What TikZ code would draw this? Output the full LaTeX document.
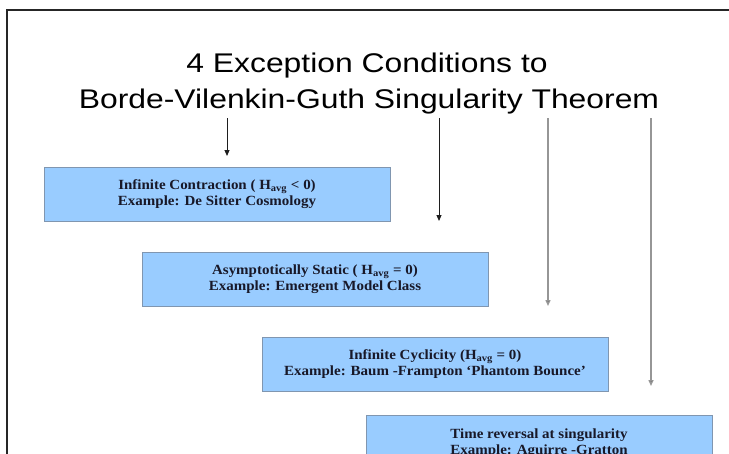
\documentclass[tikz,border=0pt]{standalone}
\usepackage{fontspec}
\setmainfont{Liberation Serif}
\newfontfamily\titlefont{Liberation Sans}
\usetikzlibrary{arrows.meta}
\definecolor{boxfill}{RGB}{153,204,255}
\definecolor{boxline}{RGB}{128,150,176}
\definecolor{boxtext}{RGB}{24,24,40}
\definecolor{darkarrow}{RGB}{30,30,30}
\definecolor{grayarrow}{RGB}{150,150,150}
\newcommand{\boxlines}[2]{\scalebox{1.07}[1]{\begin{tabular}{@{}c@{}}#1\\#2\end{tabular}}}
\newcommand{\titleline}[1]{\scalebox{1.18}[1]{#1}}
\begin{document}
\begin{tikzpicture}[x=1pt,y=-1pt,
  condbox/.style={draw=boxline, fill=boxfill, line width=0.8pt, minimum width=346pt, minimum height=54pt,
    inner sep=0pt, text=boxtext, font=\fontsize{14}{16.5}\selectfont\bfseries},
  titletext/.style={anchor=base, inner sep=0pt, font=\titlefont\fontsize{27}{36}\selectfont},
  darkline/.style={draw=darkarrow, line width=1pt, -{Triangle[length=6pt,width=5pt]}},
  grayline/.style={draw=grayarrow, line width=1.4pt, -{Triangle[length=6pt,width=5pt,fill=darkarrow]}}
]
\useasboundingbox (0,0) rectangle (729,453);
\clip (0,0) rectangle (729,453);
\fill[white] (0,0) rectangle (729,453);
% frame
\draw[line width=2pt, black!85] (7,470) -- (7,10) -- (740,10);
% title
\node[titletext] (t1) at (367,72) {\titleline{4 Exception Conditions to}};
\node[titletext] (t2) at (369,108) {\titleline{Borde-Vilenkin-Guth Singularity Theorem}};
% boxes
\node[condbox] (b1) at (217,194) {\boxlines{Infinite Contraction ( H\textsubscript{avg} < 0)}{Example: De Sitter Cosmology}};
\node[condbox] (b2) at (315,279) {\boxlines{Asymptotically Static ( H\textsubscript{avg} = 0)}{Example: Emergent Model Class}};
\node[condbox] (b3) at (435,364) {\boxlines{Infinite Cyclicity (H\textsubscript{avg} = 0)}{Example: Baum -Frampton ‘Phantom Bounce’}};
\node[condbox, minimum height=55pt] (b4) at (539,443) {\boxlines{Time reversal at singularity}{Example: Aguirre -Gratton}};
% arrow endpoints
\coordinate (s1) at (227,118); \coordinate (e1) at (227,156);
\coordinate (s2) at (439,118); \coordinate (e2) at (439,221);
\coordinate (s3) at (548,118); \coordinate (e3) at (548,306);
\coordinate (s4) at (651,118); \coordinate (e4) at (651,386);
\draw[darkline] (s1) -- (e1);
\draw[darkline] (s2) -- (e2);
\draw[grayline] (s3) -- (e3);
\draw[grayline] (s4) -- (e4);
\end{tikzpicture}
\end{document}
